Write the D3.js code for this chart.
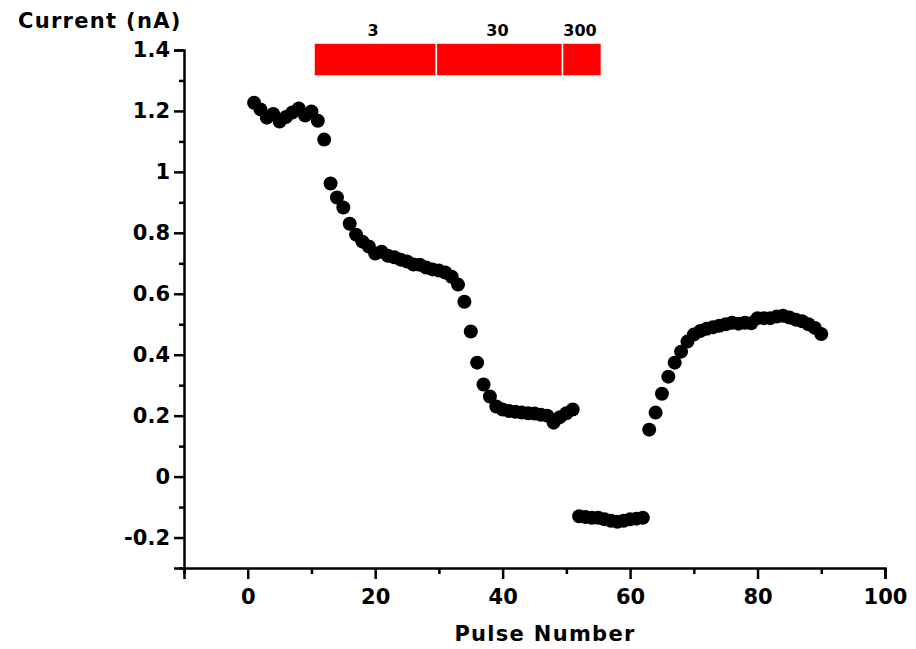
<!DOCTYPE html>
<html>
<head>
<meta charset="utf-8">
<script src="https://cdn.jsdelivr.net/npm/d3@7"></script>
<style>
  body { margin: 0; background: #fff; }
  text { font-family: "DejaVu Sans", Verdana, sans-serif; font-weight: bold; }
</style>
</head>
<body>
<div id="chart-container"></div>
<script>
// Measured current for each pulse (pulse 1 .. 90)
const current = [
  1.227, 1.205, 1.178, 1.19, 1.165, 1.18, 1.195, 1.208, 1.185, 1.198,
  1.168, 1.106, 0.962, 0.916, 0.883, 0.83, 0.794, 0.771, 0.755, 0.732,
  0.738, 0.725, 0.72, 0.712, 0.706, 0.696, 0.695, 0.686, 0.68, 0.676,
  0.67, 0.656, 0.63, 0.574, 0.476, 0.374, 0.302, 0.263, 0.23, 0.22,
  0.215, 0.213, 0.21, 0.208, 0.207, 0.203, 0.2, 0.177, 0.195, 0.208,
  0.22, -0.13, -0.133, -0.135, -0.135, -0.14, -0.145, -0.148, -0.145, -0.14,
  -0.138, -0.135, 0.154, 0.21, 0.272, 0.328, 0.374, 0.41, 0.443, 0.466,
  0.478, 0.485, 0.49, 0.495, 0.5, 0.505, 0.502, 0.505, 0.503, 0.52,
  0.52, 0.52, 0.525, 0.528, 0.522, 0.515, 0.51, 0.5, 0.488, 0.468
]
const firstPulse = 1

// Stimulus blocks drawn above the data (pulse-number edges)
const stimEdges = [10.4, 29.6, 49.4, 55.5]
const stimLabels = ['3', '30', '300']

// Ticks
const xMajor = [0, 20, 40, 60, 80, 100]
const xMinor = [-10, 10, 30, 50, 70, 90]
const yMajor = [-0.2, 0, 0.2, 0.4, 0.6, 0.8, 1, 1.2, 1.4]
const yMinor = [-0.3, -0.1, 0.1, 0.3, 0.5, 0.7, 0.9, 1.1, 1.3]

const W = 916
const H = 649

const x = d3.scaleLinear().domain([-10, 100]).range([184, 885])
const y = d3.scaleLinear().domain([-0.3, 1.4]).range([568, 50])

const svg = d3
  .select('#chart-container')
  .append('svg')
  .attr('width', W)
  .attr('height', H)

// plain hyphen for negatives, like the original
const fmt = (d) => d3.format('~g')(d).replace('\u2212', '-')

// y axis
const gy = svg.append('g').attr('transform', `translate(${x(-10)},0)`)
gy.call(d3.axisLeft(y).tickValues(yMajor).tickSize(10).tickPadding(4).tickFormat(fmt))
gy.append('g').call(d3.axisLeft(y).tickValues(yMinor).tickSize(5).tickFormat(''))
  .select('.domain').remove()

// x axis
const gx = svg.append('g').attr('transform', `translate(0,${y(-0.3)})`)
gx.call(d3.axisBottom(x).tickValues(xMajor).tickSize(11).tickPadding(10))
gx.append('g').call(d3.axisBottom(x).tickValues(xMinor).tickSize(6).tickFormat(''))
  .select('.domain').remove()

svg.selectAll('.domain').attr('stroke', '#000').attr('stroke-width', 2.5)
svg.selectAll('.tick line').attr('stroke', '#000').attr('stroke-width', 2.5)
svg.selectAll('.tick text')
  .attr('fill', '#000')
  .style('font-size', '21px')
  .style('font-family', '"DejaVu Sans", Verdana, sans-serif')
  .style('font-weight', 'bold')

// Axis titles
svg.append('text')
  .attr('x', 18)
  .attr('y', 28)
  .style('font-size', '21px')
  .style('letter-spacing', '1.3px')
  .text('Current (nA)')

svg.append('text')
  .attr('x', 545)
  .attr('y', 641)
  .attr('text-anchor', 'middle')
  .style('font-size', '21px')
  .style('letter-spacing', '1.3px')
  .text('Pulse Number')

// Stimulus bar
const blocks = stimLabels.map((label, i) => ({ label, x0: stimEdges[i], x1: stimEdges[i + 1] }))

svg.selectAll('.block')
  .data(blocks)
  .enter()
  .append('rect')
  .attr('class', 'block')
  .attr('x', (d) => x(d.x0))
  .attr('width', (d) => x(d.x1) - x(d.x0))
  .attr('y', 43)
  .attr('height', 33)
  .attr('fill', '#ff0000')
  .attr('stroke', '#fff')
  .attr('stroke-width', 1.5)

svg.selectAll('.blockLabel')
  .data(blocks)
  .enter()
  .append('text')
  .attr('class', 'blockLabel')
  .attr('x', (d) => (x(d.x0) + x(d.x1)) / 2 - 2)
  .attr('y', 36)
  .attr('text-anchor', 'middle')
  .style('font-size', '16px')
  .text((d) => d.label)

// Data points
svg.selectAll('.pt')
  .data(current)
  .enter()
  .append('circle')
  .attr('class', 'pt')
  .attr('cx', (d, i) => x(firstPulse + i))
  .attr('cy', (d) => y(d))
  .attr('r', 7)
  .attr('fill', '#000')
</script>
</body>
</html>
